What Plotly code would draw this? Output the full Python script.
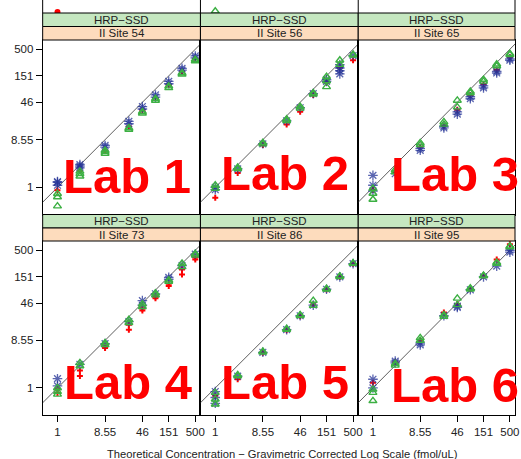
import plotly.graph_objects as go

W, H = 521, 459

# ---------------- data ----------------
concentrations = [1, 2.75, 8.55, 25, 46, 83, 151, 275, 500]
tick_vals = [1, 8.55, 46, 151, 500]
tick_text = ["1", "8.55", "46", "151", "500"]
labs = ["Lab 1", "Lab 2", "Lab 3", "Lab 4", "Lab 5", "Lab 6"]
sites = ["II Site 54", "II Site 56", "II Site 65", "II Site 73", "II Site 86", "II Site 95"]
assay = "HRP\u2212SSD"
x_title = "Theoretical Concentration \u2212 Gravimetric Corrected Log Scale (fmol/uL)"

# replicate measurements per concentration (fmol/uL)
lab1_red = [[0.88], [2.1], [5.4], [15.5], [32], [56], [100], [182], [325]]
lab1_blue = [[1.1, 1.3, 1.25], [2.4, 2.8, 2.6], [6.1, 6.6], [17.5, 19.5], [34, 38], [58, 64], [106, 118], [195, 212], [340, 370]]
lab1_green = [[0.75, 0.65, 0.43], [1.65, 1.85, 2.05], [4.6, 5.0, 5.3], [13.5, 14.5], [28, 30], [50, 54], [88, 95], [162, 172], [295, 315]]

lab2_red = [[0.63], [1.9], [6.7], [17], [30], [64], [112], [220], [305]]
lab2_blue = [[0.9, 1.0], [2.3], [7.1], [20], [36], [68], [118, 128], [165, 190, 215, 250], [375]]
lab2_green = [[0.95, 1.1], [2.3, 2.45], [7.0, 7.5], [20, 21.5], [35, 38], [66, 70], [120, 145, 92], [250, 305], [380, 395]]

lab3_red = [[0.9], [1.9], [6.2], [16], [33], [64], [105], [200], [350]]
lab3_blue = [[1.72, 1.1, 0.85], [1.85], [5.3, 5.8], [14.5, 15.5], [27, 30], [54, 59], [88, 96], [172, 185], [305, 325]]
lab3_green = [[0.95, 0.76, 0.58], [2.0, 2.2], [6.8, 7.4], [17, 19], [37, 50], [70, 75], [118, 128], [235, 255], [390, 410]]

lab4_red = [[0.94, 0.8], [2.2, 1.71], [6.1, 6.5], [17.3, 13.8], [33, 36], [57, 62], [99.5, 110], [168, 210], [330, 360]]
lab4_blue = [[1.52, 1.1], [2.9], [7.4], [20], [51.6, 42], [70], [147, 135], [250], [420]]
lab4_green = [[0.75, 0.85, 1.0], [3.1, 2.7], [7.6, 7.0], [21.7, 19], [39, 44], [72, 66], [130, 122], [275, 236], [430, 400]]

lab5_red = [[0.7], [1.48], [4.9], [13.5], [25.5], [43], [85], [150], [272]]
lab5_blue = [[0.85, 0.65, 0.5], [1.7], [5.0], [13.9], [26], [42], [86], [150], [273]]
lab5_green = [[0.81, 0.6, 0.48], [1.71, 1.8], [5.0, 5.2], [13.9, 14.5], [26, 27], [51.6, 41], [86, 88], [151, 155], [275, 280]]

lab6_red = [[1.27], [3.2], [8.5], [30], [44], [86], [158], [330], [653]]
lab6_blue = [[1.48, 1.0], [3.35, 3.1], [7.6, 7.0], [26], [38, 40], [84], [150], [244], [500, 460]]
lab6_green = [[0.94, 0.81, 0.56], [2.77, 3.0], [9.6, 8.5], [25, 27], [57, 42.5], [86, 90], [156, 160], [275, 290], [600, 580]]

# points of the (cropped) panel row above
prev_red = [0.31]
prev_green = [0.32]

lab_series = [
    (lab1_red, lab1_blue, lab1_green),
    (lab2_red, lab2_blue, lab2_green),
    (lab3_red, lab3_blue, lab3_green),
    (lab4_red, lab4_blue, lab4_green),
    (lab5_red, lab5_blue, lab5_green),
    (lab6_red, lab6_blue, lab6_green),
]

# ---------------- layout geometry (pixels) ----------------
COLS = [(43, 202), (202, 361), (361, 519)]
ROWS = [(40, 214.5), (241, 415)]
STRIP_G = [(13, 26.5), (214.5, 228)]
STRIP_O = [(26.5, 40), (228, 241)]
XR = [-0.29, 2.80]
YR = [-0.53, 2.88]
FONT = "Liberation Sans, Arial, Helvetica, sans-serif"

def px(x):
    return x / W

def py(y):
    return 1 - y / H

def flat(reps):
    xs, ys = [], []
    for c, vals in zip(concentrations, reps):
        for v in vals:
            xs.append(c)
            ys.append(v)
    return xs, ys

fig = go.Figure()
layout = {}
shapes = []
annotations = []

RED = dict(symbol="cross", size=5, color="#ff0000")
BLUE = dict(symbol="asterisk-open", size=8, color="rgba(35,50,150,0.75)", line=dict(width=1.3, color="rgba(35,50,150,0.75)"))
GREEN = dict(symbol="triangle-up-open", size=7, color="#3cb043", line=dict(width=1.4, color="#3cb043"))

for i in range(6):
    r, c = divmod(i, 3)
    n = i + 1
    xa, ya = f"x{n}", f"y{n}"
    x0, x1 = COLS[c]
    y0, y1 = ROWS[r]
    layout[f"xaxis{n}"] = dict(
        domain=[px(x0), px(x1)], type="log", range=XR, anchor=ya,
        showline=True, mirror=True, linecolor="black", linewidth=1,
        showgrid=False, zeroline=False,
        tickvals=tick_vals, ticktext=tick_text,
        ticks="outside" if r == 1 else "", ticklen=6, tickwidth=1, tickcolor="black",
        showticklabels=(r == 1), tickfont=dict(size=11.5, color="#222", family=FONT),
    )
    layout[f"yaxis{n}"] = dict(
        domain=[py(y1), py(y0)], type="log", range=YR, anchor=xa,
        showline=True, mirror=True, linecolor="black", linewidth=1,
        showgrid=False, zeroline=False,
        tickvals=tick_vals, ticktext=tick_text,
        ticks="outside" if c == 0 else "", ticklen=6, tickwidth=1, tickcolor="black",
        showticklabels=(c == 0), tickfont=dict(size=11.5, color="#222", family=FONT),
    )
    # identity line
    fig.add_trace(go.Scatter(x=[0.1, 1000], y=[0.1, 1000], mode="lines",
                             line=dict(color="#333", width=0.8), xaxis=xa, yaxis=ya,
                             showlegend=False, hoverinfo="skip"))
    red, blue, green = lab_series[i]
    for reps, mk in ((red, RED), (blue, BLUE), (green, GREEN)):
        xs, ys = flat(reps)
        fig.add_trace(go.Scatter(x=xs, y=ys, mode="markers", marker=mk,
                                 xaxis=xa, yaxis=ya, showlegend=False))
    # strips
    gy0, gy1 = STRIP_G[r]
    oy0, oy1 = STRIP_O[r]
    shapes.append(dict(type="rect", xref="paper", yref="paper", x0=px(x0), x1=px(x1),
                       y0=py(gy1), y1=py(gy0), fillcolor="#c5e7c0", line=dict(color="black", width=1), layer="above"))
    shapes.append(dict(type="rect", xref="paper", yref="paper", x0=px(x0), x1=px(x1),
                       y0=py(oy1), y1=py(oy0), fillcolor="#fddcbd", line=dict(color="black", width=1), layer="above"))
    annotations.append(dict(text=assay, xref="paper", yref="paper", x=px((x0 + x1) / 2), y=py((gy0 + gy1) / 2),
                            showarrow=False, xanchor="center", yanchor="middle",
                            font=dict(size=11.5, color="#222", family=FONT)))
    annotations.append(dict(text=sites[i], xref="paper", yref="paper", x=px((x0 + x1) / 2), y=py((oy0 + oy1) / 2),
                            showarrow=False, xanchor="center", yanchor="middle",
                            font=dict(size=11.5, color="#222", family=FONT)))

# cropped row of panels above
for c in range(3):
    n = 7 + c
    x0, x1 = COLS[c]
    layout[f"xaxis{n}"] = dict(domain=[px(x0), px(x1)], type="log", range=XR, anchor=f"y{n}",
                               visible=False)
    layout[f"yaxis{n}"] = dict(domain=[py(13), 1.0], type="log", range=[YR[0], YR[0] + 13 / 51.2],
                               anchor=f"x{n}", visible=False)
fig.add_trace(go.Scatter(x=[1], y=prev_red, mode="markers", marker=dict(symbol="circle", size=6, color="#ff0000"),
                         xaxis="x7", yaxis="y7", showlegend=False))
fig.add_trace(go.Scatter(x=[1], y=prev_green, mode="markers", marker=GREEN,
                         xaxis="x8", yaxis="y8", showlegend=False))
for xv in (43, 202, 361, 519):
    shapes.append(dict(type="line", xref="paper", yref="paper", x0=px(xv), x1=px(xv), y0=py(13), y1=1.0,
                       line=dict(color="black", width=1)))

# Lab labels
LAB_POS = [(61, 176), (221, 173), (392, 174), (62, 382), (221, 382), (392, 385)]
for name, (lx, ly) in zip(labs, LAB_POS):
    annotations.append(dict(text=f"<b>{name}</b>", xref="paper", yref="paper", x=px(lx), y=py(ly),
                            showarrow=False, xanchor="left", yanchor="middle",
                            font=dict(size=49, color="#ff0000", family=FONT)))

annotations.append(dict(text=x_title, xref="paper", yref="paper", x=px(285), y=py(454),
                        showarrow=False, xanchor="center", yanchor="middle",
                        font=dict(size=11.2, color="#222", family=FONT)))

fig.update_layout(width=W, height=H, margin=dict(l=0, r=0, t=0, b=0),
                  paper_bgcolor="white", plot_bgcolor="white",
                  shapes=shapes, annotations=annotations, showlegend=False, **layout)

fig.write_html("out.html")
